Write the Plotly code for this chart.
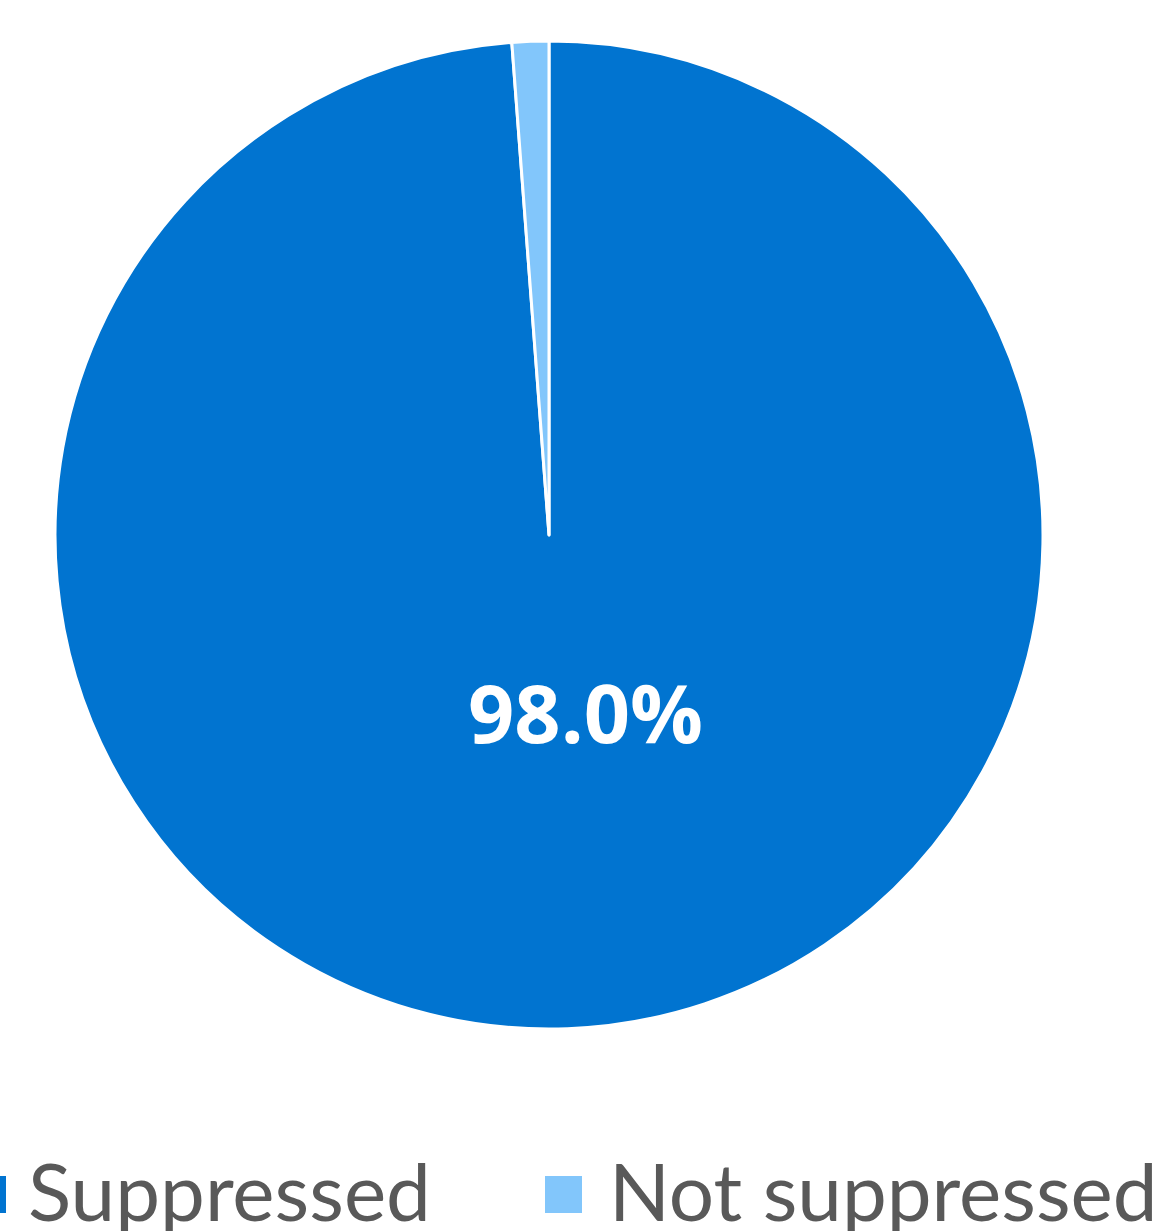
import plotly.graph_objects as go

categories = ["Suppressed", "Not suppressed"]
values = [98.8, 1.2]
pct_labels = ["98.0%", ""]
colors = ["#0174D0", "#82C6FB"]

W, H = 1163, 1231
fig = go.Figure()
fig.add_trace(go.Pie(
    labels=categories, values=values, sort=False, direction="clockwise", rotation=0,
    marker=dict(colors=colors, line=dict(color="white", width=3)),
    textinfo="none", hoverinfo="label+percent", showlegend=False,
    domain=dict(x=[55 / W, 1043 / W], y=[(H - 1029) / H, (H - 41) / H]),
))

# value label
fig.add_annotation(x=585 / W, y=1 - 711 / H, xref="paper", yref="paper",
                   text=pct_labels[0], showarrow=False,
                   font=dict(family="Open Sans", size=81, color="white", weight="bold"))

# legend (drawn manually to match large marker size)
leg = [(-31, 26), (545, 607)]
for (mx, tx), cat, col in zip(leg, categories, colors):
    fig.add_shape(type="rect", xref="paper", yref="paper",
                  x0=mx / W, x1=(mx + 37) / W, y0=1 - 1213 / H, y1=1 - 1176 / H,
                  fillcolor=col, line=dict(width=0))
    fig.add_annotation(x=tx / W, y=1 - 1190 / H, xref="paper", yref="paper",
                       text=cat, showarrow=False, xanchor="left", yanchor="middle",
                       font=dict(family="Lato", size=80, color="#595959"))

fig.update_layout(width=W, height=H, margin=dict(l=0, r=0, t=0, b=0, autoexpand=False),
                  paper_bgcolor="white", plot_bgcolor="white")
fig.write_html("out.html", config={"displayModeBar": False},
               post_script="document.body.style.margin='0px';")
